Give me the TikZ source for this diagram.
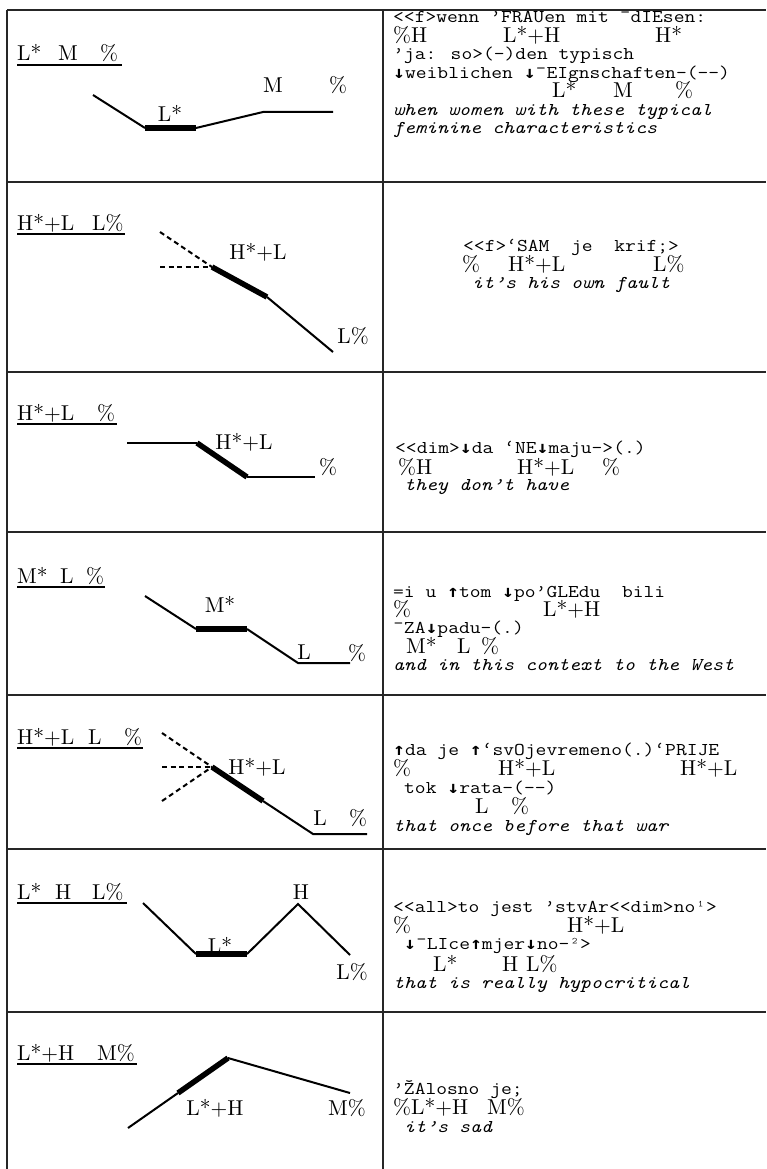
\documentclass[tikz,border=0pt]{standalone}
\usepackage{fontspec}
\newfontfamily\arrfont{DejaVu Sans Mono}
\newcommand{\arrdn}{{\arrfont\bfseries\fontsize{17}{17}\selectfont ↓}}
\newcommand{\arrup}{{\arrfont\bfseries\fontsize{17}{17}\selectfont ↑}}
\newcommand{\monow}[1]{\scalebox{1.164}[1]{#1}}
\newcommand{\serw}[1]{\scalebox{2.15}{\fontsize{10}{10}\selectfont #1}}
\tikzset{
  txtm/.style={anchor=base west, inner sep=0pt, font=\ttfamily\fontsize{18}{18}\selectfont},
  txti/.style={anchor=base west, inner sep=0pt, font=\ttfamily\itshape\fontsize{18}{18}\selectfont},
  txts/.style={anchor=base west, inner sep=0pt},
  lbl/.style={inner sep=0pt},
  rule/.style={line width=1.8pt, draw=black!85},
  cline/.style={line width=2pt},
  cbar/.style={line width=5.5pt},
  cdash/.style={line width=2pt, dash pattern=on 5pt off 3.5pt},
  uline/.style={line width=1.5pt}
}
\begin{document}
\begin{tikzpicture}[x=1pt,y=-1pt]
\useasboundingbox (0,0) rectangle (766,1169);
% table rules
\draw[rule] (7,10) -- (766,10);
\draw[rule] (7,182) -- (766,182);
\draw[rule] (7,372) -- (766,372);
\draw[rule] (7,532) -- (766,532);
\draw[rule] (7,695) -- (766,695);
\draw[rule] (7,849) -- (766,849);
\draw[rule] (7,1012) -- (766,1012);
\draw[rule] (7,10) -- (7,1169);
\draw[rule] (383,10) -- (383,1169);

% ---------- row 1
\node[txts] (t1a) at (17,61) {\serw{L*}};
\node[txts] (t1b) at (58,61) {\serw{M}};
\node[txts] (t1c) at (100,61) {\serw{\%}};
\draw[uline] (17,65) -- (122,65);
\draw[cline] (93,95) -- (145,128);
\draw[cbar] (145,128) -- (196,128);
\draw[cline] (196,128) -- (263,112) -- (333,112);
\node[lbl] (c1a) at (170,113) {\serw{L*}};
\node[lbl] (c1b) at (273,85) {\serw{M}};
\node[lbl] (c1c) at (338,85) {\serw{\%}};
\node[txtm] (r1a) at (393,23) {\monow{<<f>wenn ’FRAUen mit ¯dIEsen:}};
\node[txts] (r1b1) at (393,42.5) {\serw{\%H}};
\node[txts] (r1b2) at (503,42.5) {\serw{L*+H}};
\node[txts] (r1b3) at (655,42.5) {\serw{H*}};
\node[txtm] (r1c) at (393,60) {\monow{’ja: so>(-)den typisch}};
\node[txtm] (r1d) at (393,78.5) {\monow{\arrdn{}weiblichen \arrdn{}¯EIgnschaften-(-{}-)}};
\node[txts] (r1e1) at (552,98) {\serw{L*}};
\node[txts] (r1e2) at (613,98) {\serw{M}};
\node[txts] (r1e3) at (675,98) {\serw{\%}};
\node[txti] (r1f) at (393,115.5) {\monow{when women with these typical}};
\node[txti] (r1g) at (393,134) {\monow{feminine characteristics}};

% ---------- row 2
\node[txts] (t2a) at (17,230) {\serw{H*+L}};
\node[txts] (t2b) at (92,230) {\serw{L\%}};
\draw[uline] (17,234) -- (125,234);
\draw[cdash] (160,232) -- (212,267);
\draw[cdash] (160,267) -- (212,267);
\draw[cbar] (212,267) -- (267,297);
\draw[cline] (267,297) -- (333,352);
\node[lbl] (c2a) at (258,252) {\serw{H*+L}};
\node[lbl] (c2b) at (353,336) {\serw{L\%}};
\node[txtm] (r2a) at (463,251) {\monow{<<f>‘SAM~~je~~krif;>}};
\node[txts] (r2b1) at (462,271) {\serw{\%}};
\node[txts] (r2b2) at (508,271) {\serw{H*+L}};
\node[txts] (r2b3) at (653,271) {\serw{L\%}};
\node[txti] (r2c) at (472,288.5) {\monow{it’s his own fault}};

% ---------- row 3
\node[txts] (t3a) at (17,420) {\serw{H*+L}};
\node[txts] (t3b) at (97,420) {\serw{\%}};
\draw[uline] (17,424) -- (117,424);
\draw[cline] (127,443) -- (197,443);
\draw[cbar] (197,443) -- (247,477);
\draw[cline] (247,477) -- (315,477);
\node[lbl] (c3a) at (244,442) {\serw{H*+L}};
\node[lbl] (c3b) at (328,467) {\serw{\%}};
\node[txtm] (r3a) at (395,453.5) {\monow{<<dim>\arrdn{}da ‘NE\arrdn{}maju->(.)}};
\node[txts] (r3b1) at (398,474) {\serw{\%H}};
\node[txts] (r3b2) at (517,474) {\serw{H*+L}};
\node[txts] (r3b3) at (602,474) {\serw{\%}};
\node[txti] (r3c) at (404,490.5) {\monow{they don’t have}};

% ---------- row 4
\node[txts] (t4a) at (17,583) {\serw{M*}};
\node[txts] (t4b) at (60,583) {\serw{L}};
\node[txts] (t4c) at (86,583) {\serw{\%}};
\draw[uline] (17,587) -- (105,587);
\draw[cline] (145,596) -- (196,629);
\draw[cbar] (196,629) -- (247,629);
\draw[cline] (247,629) -- (298,663) -- (350,663);
\node[lbl] (c4a) at (220,604) {\serw{M*}};
\node[lbl] (c4b) at (304,652) {\serw{L}};
\node[lbl] (c4c) at (357,653) {\serw{\%}};
\node[txtm] (r4a) at (393,597) {\monow{=i u \arrup{}tom \arrdn{}po’GLEdu~~bili}};
\node[txts] (r4b1) at (393,616.5) {\serw{\%}};
\node[txts] (r4b2) at (543,616.5) {\serw{L*+H}};
\node[txtm] (r4c) at (393,633.5) {\monow{¯ZA\arrdn{}padu-(.)}};
\node[txts] (r4d1) at (406,653.5) {\serw{M*}};
\node[txts] (r4d2) at (457,653.5) {\serw{L}};
\node[txts] (r4d3) at (481,653.5) {\serw{\%}};
\node[txti] (r4e) at (393,670.5) {\monow{and in this context to the West}};

% ---------- row 5
\node[txts] (t5a) at (17,744) {\serw{H*+L}};
\node[txts] (t5b) at (88,744) {\serw{L}};
\node[txts] (t5c) at (124,744) {\serw{\%}};
\draw[uline] (17,748) -- (143,748);
\draw[cdash] (162,733) -- (212,767);
\draw[cdash] (162,767) -- (212,767);
\draw[cdash] (162,801) -- (212,767);
\draw[cbar] (212,767) -- (263,801);
\draw[cline] (263,801) -- (313,834) -- (367,834);
\node[lbl] (c5a) at (257,767) {\serw{H*+L}};
\node[lbl] (c5b) at (320,818) {\serw{L}};
\node[lbl] (c5c) at (358,818) {\serw{\%}};
\node[txtm] (r5a) at (393,755.5) {\monow{\arrup{}da je \arrup{}‘svOjevremeno(.)‘PRIJE}};
\node[txts] (r5b1) at (393,775.5) {\serw{\%}};
\node[txts] (r5b2) at (498,775.5) {\serw{H*+L}};
\node[txts] (r5b3) at (680,775.5) {\serw{H*+L}};
\node[txtm] (r5c) at (404,793.5) {\monow{tok \arrdn{}rata-(-{}-)}};
\node[txts] (r5d1) at (475,813.5) {\serw{L}};
\node[txts] (r5d2) at (511,813.5) {\serw{\%}};
\node[txti] (r5e) at (393,831) {\monow{that once before that war}};

% ---------- row 6
\node[txts] (t6a) at (17,899) {\serw{L*}};
\node[txts] (t6b) at (55,899) {\serw{H}};
\node[txts] (t6c) at (92,899) {\serw{L\%}};
\draw[uline] (17,903) -- (127,903);
\node[lbl] (c6a) at (220,945) {\serw{L*}};
\draw[cline] (143,903) -- (196,954);
\draw[cbar] (196,954) -- (247,954);
\draw[cline] (247,954) -- (298,904) -- (350,955);
\node[lbl] (c6b) at (301,892) {\serw{H}};
\node[lbl] (c6c) at (352,972) {\serw{L\%}};
\node[txtm] (r6a) at (393,912.5) {\monow{<<all>to jest ’stvAr<<dim>no¹>}};
\node[txts] (r6b1) at (393,932.5) {\serw{\%}};
\node[txts] (r6b2) at (567,932.5) {\serw{H*+L}};
\node[txtm] (r6c) at (404,949.5) {\monow{\arrdn{}¯LIce\arrup{}mjer\arrdn{}no-²>}};
\node[txts] (r6d1) at (433,971) {\serw{L*}};
\node[txts] (r6d2) at (502,971) {\serw{H}};
\node[txts] (r6d3) at (526,971) {\serw{L\%}};
\node[txti] (r6e) at (393,988) {\monow{that is really hypocritical}};

% ---------- row 7
\node[txts] (t7a) at (17,1060) {\serw{L*+H}};
\node[txts] (t7b) at (97,1060) {\serw{M\%}};
\draw[uline] (17,1064) -- (137,1064);
\draw[cline] (128,1128) -- (178,1093);
\draw[cbar] (178,1093) -- (228,1058);
\draw[cline] (228,1058) -- (350,1093);
\node[lbl] (c7a) at (215,1108) {\serw{L*+H}};
\node[lbl] (c7b) at (347,1108) {\serw{M\%}};
\node[txtm] (r7a) at (393,1094.5) {\monow{’ŽAlosno je;}};
\node[txts] (r7b1) at (393,1114.5) {\serw{\%L*+H}};
\node[txts] (r7b2) at (487,1114.5) {\serw{M\%}};
\node[txti] (r7c) at (404,1132) {\monow{it’s sad}};
\end{tikzpicture}
\end{document}
